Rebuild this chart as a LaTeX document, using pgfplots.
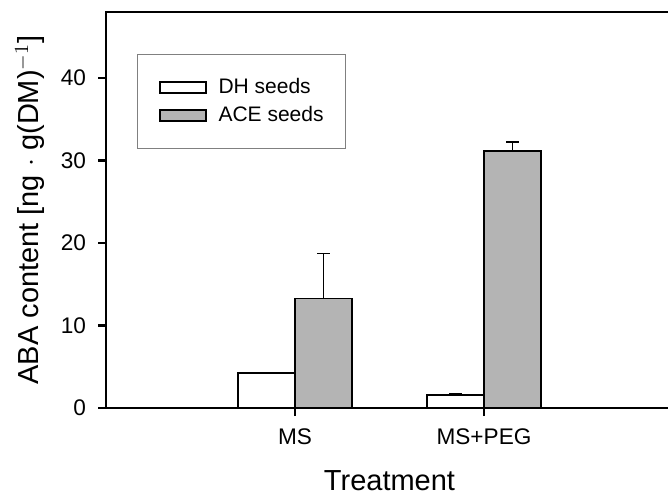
\documentclass[border=0pt]{standalone}
\usepackage{fontspec}
\setmainfont{Liberation Sans}
\usepackage{pgfplots}
\pgfplotsset{compat=1.18}
\definecolor{aceGray}{HTML}{B4B4B4}
\definecolor{legBorder}{HTML}{808080}

\begin{document}
\begin{tikzpicture}
% the frame runs past the right edge of the picture, as in the reference
\path[use as bounding box, clip] (-53pt,-43.5pt) rectangle (281pt,204pt);
\begin{axis}[
  scale only axis,
  width=283.5pt, height=198pt,
  xmin=0, xmax=3, ymin=0, ymax=48,
  ybar=0pt, bar width=28.5pt,
  xtick={1,2}, xticklabels={MS, MS+PEG},
  ytick={0,10,20,30,40},
  xtick pos=bottom, ytick pos=left,
  tick align=outside,
  major tick length=4pt,
  tick style={black, line width=1.1pt},
  axis line style={line width=1.35pt},
  /pgf/number format/assume math mode=true,
  tick label style={font=\fontsize{11.3}{13}\selectfont},
  yticklabel style={xshift=-2.5pt},
  xticklabel style={yshift=-3pt},
  xlabel={Treatment},
  ylabel={ABA content [ng $\cdot$ g(DM)$^{-1}$]},
  every axis x label/.style={at={(axis description cs:0.5,0)}, yshift=-36.5pt, anchor=center,
    font=\fontsize{14.5}{17}\selectfont},
  every axis y label/.style={at={(axis description cs:0,0.5)}, xshift=-38pt, rotate=90, anchor=center,
    font=\fontsize{14.5}{17}\selectfont},
  legend style={
    at={(axis description cs:0.0547,0.894)}, anchor=north west,
    draw=legBorder, line width=0.5pt,
    inner xsep=7.75pt, inner ysep=9.5pt,
    font=\fontsize{10.5}{12}\selectfont,
    nodes={inner xsep=3pt, inner ysep=2pt, text height=8pt, text depth=2pt},
  },
  legend cell align=left,
  legend image code/.code={\path (-3pt,0pt) (26pt,0pt);
    \draw[#1, line width=0.75pt] (0pt,-2.75pt) rectangle (23pt,2.75pt);},
  error bars/y dir=plus, error bars/y explicit,
  error bars/error bar style={black, line width=0.8pt},
  error bars/error mark options={rotate=90, mark size=3.25pt, line width=0.8pt, black},
]
\addplot[draw=black, fill=white, line width=0.75pt] coordinates {
  (1,4.27) +- (0,0)
  (2,1.57) +- (0,0.12)
};
\addplot[draw=black, fill=aceGray, line width=0.75pt] coordinates {
  (1,13.28) +- (0,5.45)
  (2,31.15) +- (0,1.1)
};
\legend{DH seeds, ACE seeds}
\end{axis}
\end{tikzpicture}
\end{document}
